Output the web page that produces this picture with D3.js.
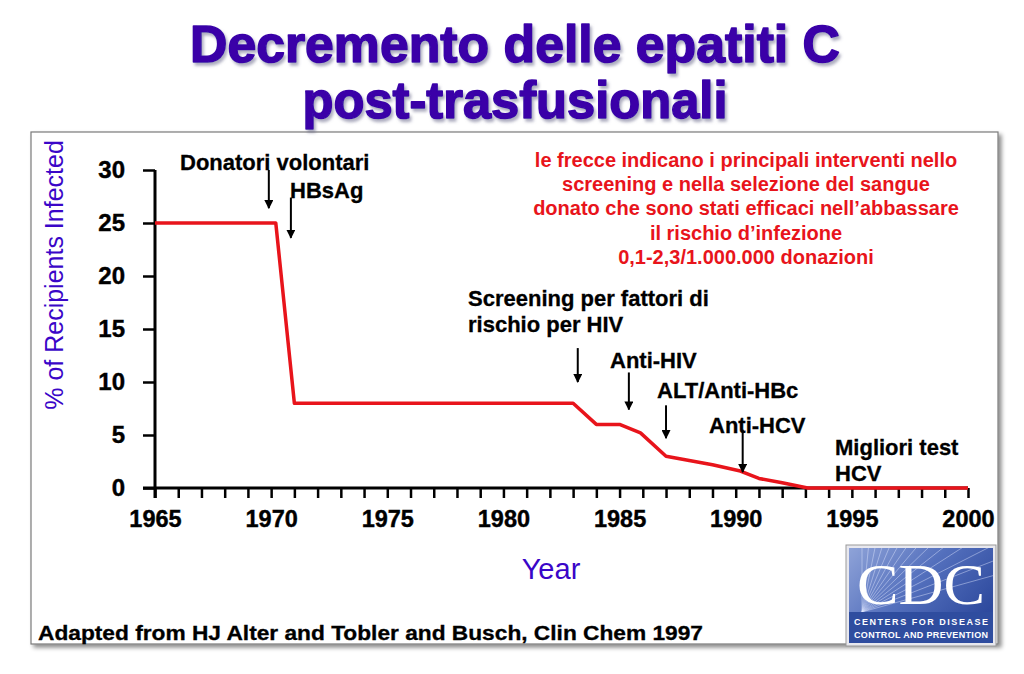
<!DOCTYPE html>
<html><head><meta charset="utf-8">
<script src="https://cdn.jsdelivr.net/npm/d3@7"></script>
<style>html,body{margin:0;padding:0;background:#fff}svg{display:block}</style>
</head><body>
<svg id="c" width="1024" height="674"></svg>
<script>
// ---- data ----
const years = [1965, 1970.2, 1971, 1983, 1984, 1985, 1985.9, 1987, 1988, 1989, 1990.2, 1991, 1992, 1993.1, 1994, 1995, 1996, 1997, 1998, 1999, 2000];
const infected = [25, 25, 8, 8, 6, 6, 5.2, 3, 2.6, 2.2, 1.6, 0.9, 0.5, 0, 0, 0, 0, 0, 0, 0, 0];
const xTickLabels = [1965, 1970, 1975, 1980, 1985, 1990, 1995, 2000];
const yTickLabels = [0, 5, 10, 15, 20, 25, 30];
const arrowYears = [1969.9, 1970.85, 1983.2, 1985.4, 1987, 1990.3];
const arrowFrom = [30, 27.4, 13.2, 10.9, 7.8, 5.5];
const arrowTo = [26.4, 23.6, 10, 7.4, 4.7, 1.5];
const annotLines = [["Donatori volontari"], ["HBsAg"], ["Screening per fattori di", "rischio per HIV"], ["Anti-HIV"], ["ALT/Anti-HBc"], ["Anti-HCV"], ["Migliori test", "HCV"]];
const titleLines = ["Decremento delle epatiti C", "post-trasfusionali"];
const noteLines = ["le frecce indicano i principali interventi nello", "screening e nella selezione del sangue", "donato che sono stati efficaci nell\u2019abbassare", "il rischio d\u2019infezione", "0,1-2,3/1.000.000 donazioni"];
const yLabel = "% of Recipients Infected";
const xLabel = "Year";
const source = "Adapted from HJ Alter and Tobler and Busch, Clin Chem 1997";

const svg = d3.select("#c");
const F = "'Liberation Sans', Arial, sans-serif";
const defs = svg.append("defs");
const sh = defs.append("filter").attr("id","sh").attr("x","-5%").attr("y","-5%").attr("width","110%").attr("height","115%");
sh.append("feDropShadow").attr("dx",3).attr("dy",3).attr("stdDeviation",2).attr("flood-color","#000").attr("flood-opacity",0.45);
const tsh = defs.append("filter").attr("id","tsh").attr("x","-5%").attr("y","-20%").attr("width","110%").attr("height","140%");
tsh.append("feDropShadow").attr("dx",2).attr("dy",3).attr("stdDeviation",1.5).attr("flood-color","#6a6a8a").attr("flood-opacity",0.55);
const mk = defs.append("marker").attr("id","ah").attr("viewBox","0 0 10 10").attr("refX",9).attr("refY",5)
  .attr("markerWidth",4.5).attr("markerHeight",4.5).attr("orient","auto").attr("markerUnits","strokeWidth");
mk.append("path").attr("d","M0,0 L10,5 L0,10 z").attr("fill","#000");

// frame
svg.append("rect").attr("x",31).attr("y",132).attr("width",967).attr("height",512)
  .attr("fill","#fff").attr("stroke","#7a7a7a").attr("stroke-width",1.2).attr("filter","url(#sh)");

// title
const tl = svg.append("g").attr("filter","url(#tsh)");
[[titleLines[0], 62, 650],[titleLines[1], 118, 425]].forEach(([t,y,w])=>{
  tl.append("text").attr("x",515).attr("y",y).attr("text-anchor","middle")
    .attr("font-family",F).attr("font-weight","bold").attr("font-size",52)
    .attr("fill","#3a06a8").attr("stroke","#3a06a8").attr("stroke-width",1.6).attr("stroke-linejoin","round")
    .attr("textLength",w).attr("lengthAdjust","spacingAndGlyphs").text(t);
});

// scales
const x = d3.scaleLinear().domain([1965,2000]).range([155,968]);
const y = d3.scaleLinear().domain([0,30]).range([488,170]);

// axes
const xAxis = d3.axisBottom(x).tickValues(d3.range(1965,2001,1)).tickSize(10).tickFormat(d=> xTickLabels.includes(d)? d : "");
const gx = svg.append("g").attr("transform","translate(0,488)").call(xAxis);
gx.select(".domain").attr("d",`M143,0H${x(2000)}`).attr("stroke","#000").attr("stroke-width",3);
gx.selectAll(".tick line").attr("stroke","#000").attr("stroke-width",2.5);
gx.selectAll(".tick text").attr("font-family",F).attr("font-weight","bold").attr("font-size",23.5).attr("fill","#000").attr("dy","1.1em")
  .attr("stroke","#000").attr("stroke-width",0.4);

const yAxis = d3.axisLeft(y).tickValues(yTickLabels).tickSize(12).tickPadding(18);
const gy = svg.append("g").attr("transform","translate(155,0)").call(yAxis);
gy.select(".domain").attr("d",`M0,${y(30)}V${498}`).attr("stroke","#000").attr("stroke-width",3);
gy.selectAll(".tick line").attr("stroke","#000").attr("stroke-width",2.5);
gy.selectAll(".tick text").attr("font-family",F).attr("font-weight","bold").attr("font-size",24).attr("fill","#000")
  .attr("stroke","#000").attr("stroke-width",0.4);

// line
const pts = years.map((yr,i)=>[yr,infected[i]]);
svg.append("path").datum(pts).attr("fill","none").attr("stroke","#e8141b").attr("stroke-width",3.5)
  .attr("stroke-linejoin","round")
  .attr("d", d3.line().x(d=>x(d[0])).y(d=>y(d[1])));

// arrows
arrowYears.forEach((yr,i)=>{
  svg.append("line").attr("x1",x(yr)).attr("x2",x(yr)).attr("y1",y(arrowFrom[i])).attr("y2",y(arrowTo[i]))
    .attr("stroke","#000").attr("stroke-width",2).attr("marker-end","url(#ah)");
});

// annotations
const annotPos = [[180,170],[290,198],[468,306],[610,368],[657,398],[709,433],[835,455]];
annotLines.forEach((lines,i)=>{
  const t = svg.append("text").attr("font-family",F).attr("font-weight","bold").attr("font-size",22).attr("fill","#000")
    .attr("stroke","#000").attr("stroke-width",0.3);
  lines.forEach((l,j)=> t.append("tspan").attr("x",annotPos[i][0]).attr("y",annotPos[i][1]+j*26).text(l));
});

// red note
const nt = svg.append("text").attr("font-family",F).attr("font-weight","bold").attr("font-size",20).attr("fill","#e8141b").attr("text-anchor","middle");
noteLines.forEach((l,j)=> nt.append("tspan").attr("x",746).attr("y",167+j*24.2).text(l));

// axis titles
svg.append("text").attr("transform","translate(63,275) rotate(-90)").attr("text-anchor","middle")
  .attr("font-family",F).attr("font-size",25).attr("fill","#3a06c8").text(yLabel);
svg.append("text").attr("x",551).attr("y",579).attr("text-anchor","middle")
  .attr("font-family",F).attr("font-size",29).attr("fill","#3a06c8").text(xLabel);

// source
svg.append("text").attr("x",38).attr("y",640).attr("font-family",F).attr("font-weight","bold").attr("font-size",20)
  .attr("fill","#000").attr("stroke","#000").attr("stroke-width",0.3)
  .attr("textLength",665).attr("lengthAdjust","spacingAndGlyphs").text(source);

// CDC logo
const lg = svg.append("g");
const grad = defs.append("linearGradient").attr("id","cg").attr("x1","0").attr("y1","0").attr("x2","1").attr("y2","0.6");
grad.append("stop").attr("offset","0").attr("stop-color","#8fa3d8");
grad.append("stop").attr("offset","0.5").attr("stop-color","#5470bd");
grad.append("stop").attr("offset","1").attr("stop-color","#2e4a9e");
lg.append("rect").attr("x",846).attr("y",545).attr("width",150).attr("height",101).attr("fill","#e8e8ee").attr("stroke","#999");
lg.append("rect").attr("x",849).attr("y",548).attr("width",144).attr("height",95).attr("fill","url(#cg)");
const cp = defs.append("clipPath").attr("id","lc"); cp.append("rect").attr("x",849).attr("y",548).attr("width",144).attr("height",64);
const rays = lg.append("g").attr("clip-path","url(#lc)");
d3.range(0,14).forEach(k=>{
  const a = -Math.PI/2 + k*0.1;
  rays.append("line").attr("x1",862).attr("y1",612).attr("x2",862+200*Math.cos(a)).attr("y2",612+200*Math.sin(a))
    .attr("stroke","#dfe6ff").attr("stroke-opacity",0.45).attr("stroke-width",1);
});
lg.append("rect").attr("x",849).attr("y",612).attr("width",144).attr("height",31).attr("fill","#2f4d9f");
lg.append("text").attr("x",921).attr("y",604).attr("text-anchor","middle").attr("font-family","'Liberation Serif', 'Times New Roman', serif")
  .attr("font-size",58).attr("fill","#fff").attr("textLength",128).attr("lengthAdjust","spacingAndGlyphs").text("CDC");
lg.append("text").attr("x",921).attr("y",625).attr("text-anchor","middle").attr("font-family",F).attr("font-weight","bold")
  .attr("font-size",9).attr("fill","#fff").attr("textLength",134).attr("lengthAdjust","spacing").text("CENTERS FOR DISEASE");
lg.append("text").attr("x",921).attr("y",638).attr("text-anchor","middle").attr("font-family",F).attr("font-weight","bold")
  .attr("font-size",9).attr("fill","#fff").attr("textLength",134).attr("lengthAdjust","spacing").text("CONTROL AND PREVENTION");
</script>
</body></html>
